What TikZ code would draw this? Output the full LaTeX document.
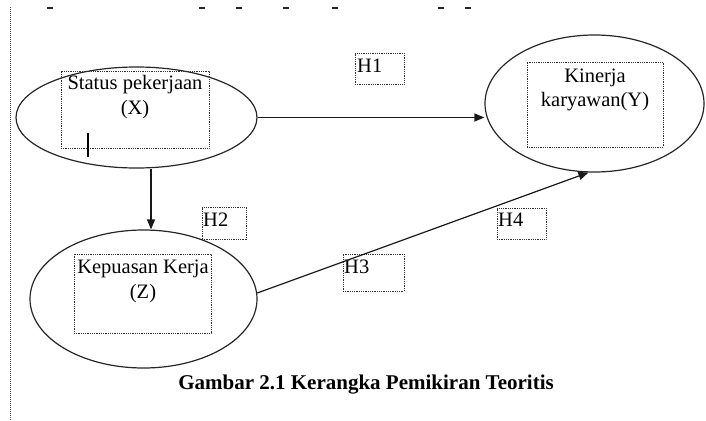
\documentclass[tikz,border=0pt]{standalone}
\usepackage{fontspec}
\setmainfont{Liberation Serif}
\usetikzlibrary{arrows.meta,shapes.geometric}
\tikzset{
  ell/.style={draw=black!85, line width=1.2pt, ellipse, inner sep=0pt},
  dotbox/.style={draw=black!80, line width=0.9pt, dash pattern=on 0.9pt off 0.9pt, rectangle, inner sep=0pt},
  txt/.style={inner sep=0pt, font=\fontsize{20.5}{25}\selectfont, text=black},
  arr/.style={line width=1.2pt, draw=black!90, -{Triangle[length=10pt,width=8pt]}},
  frag/.style={fill=black!85, draw=none, rectangle, inner sep=0pt, minimum width=6pt, minimum height=2pt}
}
\begin{document}
\begin{tikzpicture}[x=1pt,y=-1pt]
\useasboundingbox (0,0) rectangle (706,420);
% left dotted margin line
\coordinate (mtop) at (10,7);
\coordinate (mbot) at (10,420);
\draw[black!70, line width=1pt, dash pattern=on 1pt off 1pt] (mtop) -- (mbot);
% text fragments at top
\foreach \xx [count=\i] in {50,202,239,286,335,441,468}
  \node[frag] (f\i) at (\xx,8) {};
% ellipses
\node[ell, minimum width=241pt, minimum height=101pt] (X) at (136.5,117.5) {};
\node[ell, minimum width=219pt, minimum height=137pt] (Y) at (594.5,103.5) {};
\node[ell, minimum width=227pt, minimum height=138pt] (Z) at (143.5,299) {};
% inner dotted boxes
\node[dotbox, minimum width=148pt, minimum height=77pt] (Xb) at (135,109.5) {};
\node[dotbox, minimum width=136pt, minimum height=85pt] (Yb) at (595,104.5) {};
\node[dotbox, minimum width=137pt, minimum height=79pt] (Zb) at (142.5,293.5) {};
% texts
\node[txt, anchor=base] (Xt1) at (135,89) {Status pekerjaan};
\node[txt, anchor=base] (Xt2) at (135,114) {(X)};
\node[txt, anchor=base] (Yt1) at (595,82) {Kinerja};
\node[txt, anchor=base] (Yt2) at (595,106) {karyawan(Y)};
\node[txt, anchor=base] (Zt1) at (143,273) {Kepuasan Kerja};
\node[txt, anchor=base] (Zt2) at (143,298) {(Z)};
% cursor bar
\coordinate (cur1) at (88,133);
\coordinate (cur2) at (88,157);
\draw[line width=2pt] (cur1) -- (cur2);
% hypothesis boxes
\node[dotbox, minimum width=49pt, minimum height=31pt] (H1b) at (379.5,68.5) {};
\node[dotbox, minimum width=44pt, minimum height=32pt] (H2b) at (224,223) {};
\node[dotbox, minimum width=61pt, minimum height=37pt] (H3b) at (373.5,272.5) {};
\node[dotbox, minimum width=49pt, minimum height=31pt] (H4b) at (521.5,223.5) {};
\node[txt, anchor=base west] (H1) at (357,72) {H1};
\node[txt, anchor=base west] (H2) at (203,226) {H2};
\node[txt, anchor=base west] (H3) at (344,273) {H3};
\node[txt, anchor=base west] (H4) at (498,226) {H4};
% arrows
\draw[arr] (X.east) -- (X.east -| Y.west);
\draw[arr] ([xshift=14.5pt]X.south) -- ([xshift=14.5pt]X.south |- Z.north);
\draw[arr] (Z.3.5) -- (Y.265);
% caption
\node[inner sep=0pt, anchor=base, font=\fontsize{21}{25}\bfseries] (cap) at (366,389) {Gambar 2.1 Kerangka Pemikiran Teoritis};
\end{tikzpicture}
\end{document}
